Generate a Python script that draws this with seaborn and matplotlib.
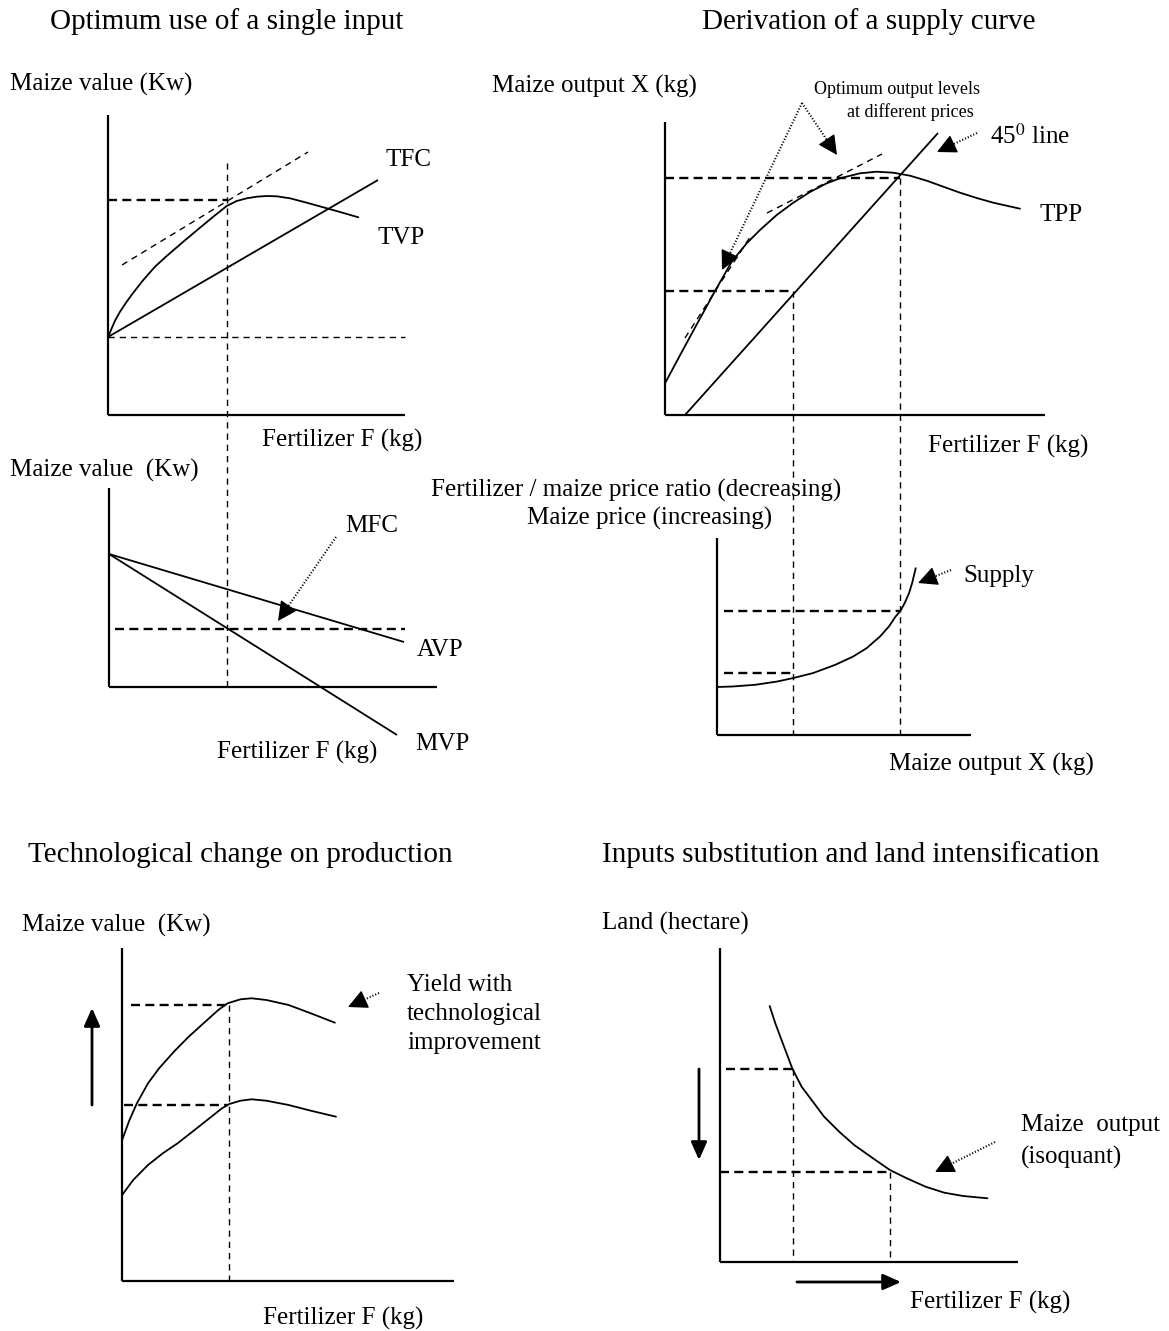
import matplotlib
matplotlib.use("Agg")
import matplotlib.pyplot as plt
import seaborn as sb
import numpy as np
import pandas as pd

# All coordinates (pixel space, y downwards)

# --- Panel 1: optimum use of a single input ---
tvp_x = [108.3, 111.7, 115, 120, 126.7, 133.3, 143.3, 155, 166.7, 183.3, 200, 213.3,
         226.7, 236.7, 246.7, 256.7, 266.7, 276.7, 290, 306.7, 323.3, 340, 358.3]
tvp_y = [336.7, 328.3, 320.7, 311.7, 301.7, 292.7, 280, 266.7, 256, 241.7, 227.7, 216.7,
         206, 201, 198.3, 196.7, 196, 196.3, 198.3, 202.7, 207.3, 212, 217.3]
tfc_x = [108, 378]
tfc_y = [337, 180]
tangent1_x = [122, 308]
tangent1_y = [265, 152]

# --- Panel 2: marginal / average values ---
avp_x = [109, 404]
avp_y = [554, 642]
mvp_x = [109, 397]
mvp_y = [554, 735]
mfc_y = 629

# --- Panel 3: derivation of a supply curve ---
tpp_x = [665, 680, 693.3, 706.7, 715, 731.7, 746.7, 760, 776.7, 793.3, 810, 826.7,
         840, 860, 876.7, 893.3, 910, 926.7, 943.3, 960, 976.7, 993.3, 1020]
tpp_y = [383.3, 355.3, 330.7, 306.3, 291, 261.7, 243.3, 230, 215, 202.7, 192, 183.3,
         178.3, 173.3, 171.7, 172.7, 175.7, 180.7, 186.7, 192.7, 198, 202.7, 208.7]
line45_x = [685, 938]
line45_y = [415, 133]
tangent_hi_x = [767, 882]
tangent_hi_y = [213, 154]
tangent_lo_x = [685, 750]
tangent_lo_y = [338, 237]

# --- Panel 4: supply ---
supply_x = [717, 732.6, 755, 777.3, 792.9, 813, 835.3, 853.2, 866.6, 880, 888.9,
            895.6, 900.1, 904.6, 909, 912.1, 915.7]
supply_y = [687, 686.5, 684.8, 681.5, 678.1, 673.1, 664.8, 656.5, 648.2, 636.5, 626.5,
            616.5, 611.5, 603.2, 593.2, 583.2, 568.2]

# --- Panel 5: technological change ---
hi_x = [122.1, 129.5, 136.9, 148, 159.1, 173.9, 188.7, 203.5, 218.3, 227.6, 240.5,
        251.6, 266.4, 288.6, 310.8, 334.9]
hi_y = [1140, 1120, 1103.3, 1083.3, 1068.3, 1051.7, 1036.7, 1023.3, 1010, 1003.3, 999.3,
        998.3, 1000, 1005, 1013.3, 1022.7]
lo_x = [122.1, 133.2, 148, 162.8, 177.6, 192.4, 207.2, 222, 229.4, 240.5, 251.6,
        266.4, 288.6, 310.8, 336]
lo_y = [1195, 1180, 1165, 1153.3, 1143.3, 1131.7, 1120, 1108.3, 1104, 1100.7, 1099.3,
        1100.7, 1105, 1110.7, 1116.7]

# --- Panel 6: isoquant ---
iso_x = [769.7, 775.3, 782.8, 792.2, 801.6, 812.9, 824.1, 839.2, 854.2, 873, 889.9,
         906.8, 925.6, 944.3, 963.1, 987.5]
iso_y = [1006, 1023.3, 1043.3, 1068.3, 1086.7, 1101.7, 1116.7, 1131.7, 1145, 1158.3,
         1170, 1178.3, 1186.7, 1192.7, 1196, 1198.3]

sb.set_theme(style="white")
plt.rcParams['font.family'] = ['Liberation Serif', 'DejaVu Serif']
plt.rcParams['mathtext.fontset'] = 'stix'
plt.rcParams['lines.scale_dashes'] = False
plt.rcParams['text.color'] = 'black'

fig = plt.figure(figsize=(11.69, 13.31), dpi=100)
ax = fig.add_axes([0, 0, 1, 1])
ax.set_xlim(0, 1169)
ax.set_ylim(1331, 0)
ax.axis('off')

SOLID = dict(color='black', lw=1.3, solid_capstyle='butt')
AXIS = dict(color='black', lw=1.6, solid_capstyle='butt')
THICK_DASH = dict(color='black', lw=1.7, linestyle=(0, (6.5, 3.8)))
THIN_DASH = dict(color='black', lw=1.0, linestyle=(0, (4.5, 3.6)))
DOT = dict(color='black', lw=1.5, linestyle=(0, (0.8, 1.4)))

LABEL = 18
TITLE = 21


def curve(xs, ys):
    df = pd.DataFrame({'x': xs, 'y': ys})
    sb.lineplot(data=df, x='x', y='y', ax=ax, sort=False, estimator=None,
                color='black', lw=1.3)


def axes_frame(x0, y_top, y_bot, x_end):
    ax.plot([x0, x0], [y_top, y_bot], **AXIS)
    ax.plot([x0, x_end], [y_bot, y_bot], **AXIS)


def dotted_arrow(x0, y0, x1, y1):
    # dotted shaft plus a filled triangular head at (x1, y1)
    v = np.array([x1 - x0, y1 - y0], dtype=float)
    v /= np.hypot(*v)
    bx, by = x1 - v[0] * 15, y1 - v[1] * 15
    ax.plot([x0, bx], [y0, by], **DOT)
    ax.annotate('', xy=(x1, y1), xytext=(bx, by),
                arrowprops=dict(arrowstyle='-|>,head_length=1.0,head_width=0.5',
                                color='black', lw=1, shrinkA=0, shrinkB=0))


def solid_arrow(x0, y0, x1, y1):
    ax.annotate('', xy=(x1, y1), xytext=(x0, y0),
                arrowprops=dict(arrowstyle='-|>,head_length=0.9,head_width=0.4',
                                color='black', lw=2, shrinkA=0, shrinkB=0))


def txt(x, y, s, size=LABEL, ha='left'):
    ax.text(x, y, s, fontsize=size, ha=ha, va='center')


# ---------- Panel 1 ----------
txt(227, 22, 'Optimum use of a single input', size=TITLE, ha='center')
txt(10, 84, 'Maize value (Kw)')
axes_frame(108, 115, 415, 405)
ax.plot([108, 227], [200, 200], **THICK_DASH)
ax.plot([108, 405], [337, 337], **THIN_DASH)
ax.plot(tangent1_x, tangent1_y, **THIN_DASH)
ax.plot(tfc_x, tfc_y, **SOLID)
curve(tvp_x, tvp_y)
ax.plot([227, 227], [163, 687], **THIN_DASH)
txt(386, 160, 'TFC')
txt(378, 238, 'TVP')
txt(262, 440, 'Fertilizer F (kg)')

# ---------- Panel 2 ----------
txt(10, 470, 'Maize value  (Kw)')
axes_frame(109, 488, 687, 437)
ax.plot(avp_x, avp_y, **SOLID)
ax.plot(mvp_x, mvp_y, **SOLID)
ax.plot([115, 405], [mfc_y, mfc_y], **THICK_DASH)
txt(345, 526, 'MFC')
dotted_arrow(336, 537, 278, 621)
txt(417, 650, 'AVP')
txt(415, 744, 'MVP')
txt(217, 752, 'Fertilizer F (kg)')

# ---------- Panel 3 ----------
txt(869, 22, 'Derivation of a supply curve', size=TITLE, ha='center')
txt(492, 86, 'Maize output X (kg)')
axes_frame(665, 122, 415, 1045)
ax.plot([665, 900], [178, 178], **THICK_DASH)
ax.plot([665, 793], [291, 291], **THICK_DASH)
ax.plot([793, 793], [291, 735], **THIN_DASH)
ax.plot([900, 900], [178, 735], **THIN_DASH)
ax.plot(tangent_hi_x, tangent_hi_y, **THIN_DASH)
ax.plot(tangent_lo_x, tangent_lo_y, **THIN_DASH)
ax.plot(line45_x, line45_y, **SOLID)
curve(tpp_x, tpp_y)
ax.text(897, 90, 'Optimum output levels', fontsize=13, ha='center', va='center')
ax.text(910, 112, 'at different prices', fontsize=13, ha='center', va='center')
dotted_arrow(802, 103, 722, 270)
dotted_arrow(802, 103, 837, 155)
dotted_arrow(977, 133, 937, 152)
txt(990, 136, r'45$^{0}$ line')
txt(1040, 215, 'TPP')
txt(928, 446, 'Fertilizer F (kg)')

# ---------- Panel 4 ----------
txt(431, 490, 'Fertilizer / maize price ratio (decreasing)')
txt(527, 518, 'Maize price (increasing)')
axes_frame(717, 538, 735, 971)
ax.plot([724, 900], [611, 611], **THICK_DASH)
ax.plot([724, 793], [673, 673], **THICK_DASH)
curve(supply_x, supply_y)
dotted_arrow(951, 570, 918, 583)
txt(963, 576, 'Supply')
txt(889, 764, 'Maize output X (kg)')

# ---------- Panel 5 ----------
txt(28, 855, 'Technological change on production', size=TITLE)
txt(22, 925, 'Maize value  (Kw)')
axes_frame(122, 948, 1281, 454)
ax.plot([131, 228], [1005, 1005], **THICK_DASH)
ax.plot([124, 228], [1105, 1105], **THICK_DASH)
ax.plot([229, 229], [1005, 1281], **THIN_DASH)
curve(hi_x, hi_y)
curve(lo_x, lo_y)
solid_arrow(92, 1105, 92, 1008)
txt(407, 985, 'Yield with')
txt(407, 1014, 'technological')
txt(407, 1043, 'improvement')
dotted_arrow(379, 993, 348, 1007)
txt(263, 1318, 'Fertilizer F (kg)')

# ---------- Panel 6 ----------
txt(602, 855, 'Inputs substitution and land intensification', size=TITLE)
txt(602, 923, 'Land (hectare)')
axes_frame(720, 948, 1262, 1018)
ax.plot([726, 793], [1069, 1069], **THICK_DASH)
ax.plot([720, 890], [1172, 1172], **THICK_DASH)
ax.plot([793, 793], [1069, 1262], **THIN_DASH)
ax.plot([890, 890], [1172, 1262], **THIN_DASH)
curve(iso_x, iso_y)
solid_arrow(699, 1069, 699, 1160)
solid_arrow(797, 1282, 901, 1282)
txt(1021, 1125, 'Maize  output')
txt(1021, 1157, '(isoquant)')
dotted_arrow(995, 1142, 935, 1172)
txt(910, 1302, 'Fertilizer F (kg)')

fig.savefig('out.png', dpi=100, facecolor='white')
